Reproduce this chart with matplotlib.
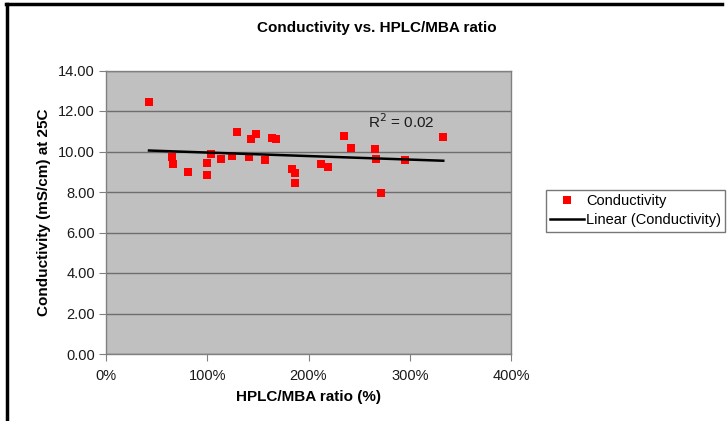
import numpy as np
import matplotlib
matplotlib.use("Agg")
import matplotlib.pyplot as plt
from matplotlib.lines import Line2D
from matplotlib.ticker import FuncFormatter, MultipleLocator

plt.rcParams['font.family'] = ['Liberation Sans', 'DejaVu Sans']

# HPLC/MBA ratio (%) and conductivity (mS/cm at 25C)
ratio_pct = [42.5, 64.9, 65.9, 81.0, 99.8, 99.8, 103.7, 113.6, 124.7, 129.7,
             143.2, 147.9, 140.9, 156.7, 164.3, 167.6, 183.7, 186.7, 186.7,
             212.1, 219.3, 234.8, 242.3, 265.4, 267.0, 271.3, 295.6, 333.1]
conductivity = [12.44, 9.74, 9.38, 9.00, 9.45, 8.84, 9.86, 9.61, 9.78, 10.98,
                10.63, 10.85, 9.74, 9.58, 10.65, 10.63, 9.15, 8.92, 8.46,
                9.37, 9.22, 10.75, 10.17, 10.12, 9.64, 7.95, 9.57, 10.70]

title = "Conductivity vs. HPLC/MBA ratio"
x_label = "HPLC/MBA ratio (%)"
y_label = "Conductivity (mS/cm) at 25C"
series_name = "Conductivity"
trend_name = "Linear (Conductivity)"

x = np.array(ratio_pct)
y = np.array(conductivity)
slope, intercept = np.polyfit(x, y, 1)
pred = slope * x + intercept
r2 = 1 - np.sum((y - pred) ** 2) / np.sum((y - y.mean()) ** 2)

W, H = 727, 421
fig = plt.figure(figsize=(W / 100, H / 100), dpi=100)
fig.patch.set_facecolor("white")

ax = fig.add_axes([106 / W, 1 - 354 / H, (511 - 106) / W, (354 - 70.5) / H])
ax.set_facecolor("#c0c0c0")
ax.set_xlim(0, 400)
ax.set_ylim(0, 14)
ax.xaxis.set_major_locator(MultipleLocator(100))
ax.yaxis.set_major_locator(MultipleLocator(2))
ax.xaxis.set_major_formatter(FuncFormatter(lambda v, p: f"{v:.0f}%"))
ax.yaxis.set_major_formatter(FuncFormatter(lambda v, p: f"{v:.2f}"))
ax.grid(axis="y", color="#6e6e6e", linewidth=1.0)
ax.set_axisbelow(True)
for s in ax.spines.values():
    s.set_color("#808080")
    s.set_linewidth(1.0)
ax.tick_params(axis="both", direction="out", color="#808080", length=5,
               labelsize=10.5, labelcolor="#1a1a1a")
ax.tick_params(axis="y", pad=3)
ax.tick_params(axis="x", pad=6)

ax.scatter(x, y, marker="s", s=30, color="#ff0000", linewidths=0,
           zorder=3, label=series_name)
xs = np.array([x.min(), x.max()])
ax.plot(xs, slope * xs + intercept, color="black", linewidth=1.8,
        zorder=4, label=trend_name)

ax.text(292, 11.45, f"R$^2$ = {r2:.2f}", fontsize=11, color="#1a1a1a",
        ha="center", va="center")

ax.set_xlabel(x_label, fontsize=11, fontweight="bold", labelpad=5)
ax.set_ylabel(y_label, fontsize=11, fontweight="bold", labelpad=5)
fig.text(377 / W, 1 - 28 / H, title, fontsize=11, fontweight="bold",
         ha="center", va="center")

handles = [Line2D([], [], marker="s", linestyle="none", color="#ff0000",
                  markersize=5.5, markeredgewidth=0),
           Line2D([], [], color="black", linewidth=1.8)]
leg = fig.legend(handles, [series_name, trend_name], loc="upper left",
                 bbox_to_anchor=(546 / W, 1 - 190 / H), fontsize=10.5,
                 frameon=True, fancybox=False, borderpad=0.3,
                 handlelength=2.3, handletextpad=0.15, labelspacing=0.35,
                 borderaxespad=0)
leg.get_frame().set_edgecolor("#555555")
leg.get_frame().set_linewidth(1.0)

# outer chart frame (left and top edges)
fig.add_artist(Line2D([7 / W, 7 / W], [0, 1 - 4 / H], color="black",
                      linewidth=2.5, transform=fig.transFigure))
fig.add_artist(Line2D([6 / W, 722 / W], [1 - 4 / H, 1 - 4 / H],
                      color="black", linewidth=2.5, transform=fig.transFigure))

fig.savefig("out.png", dpi=100)
